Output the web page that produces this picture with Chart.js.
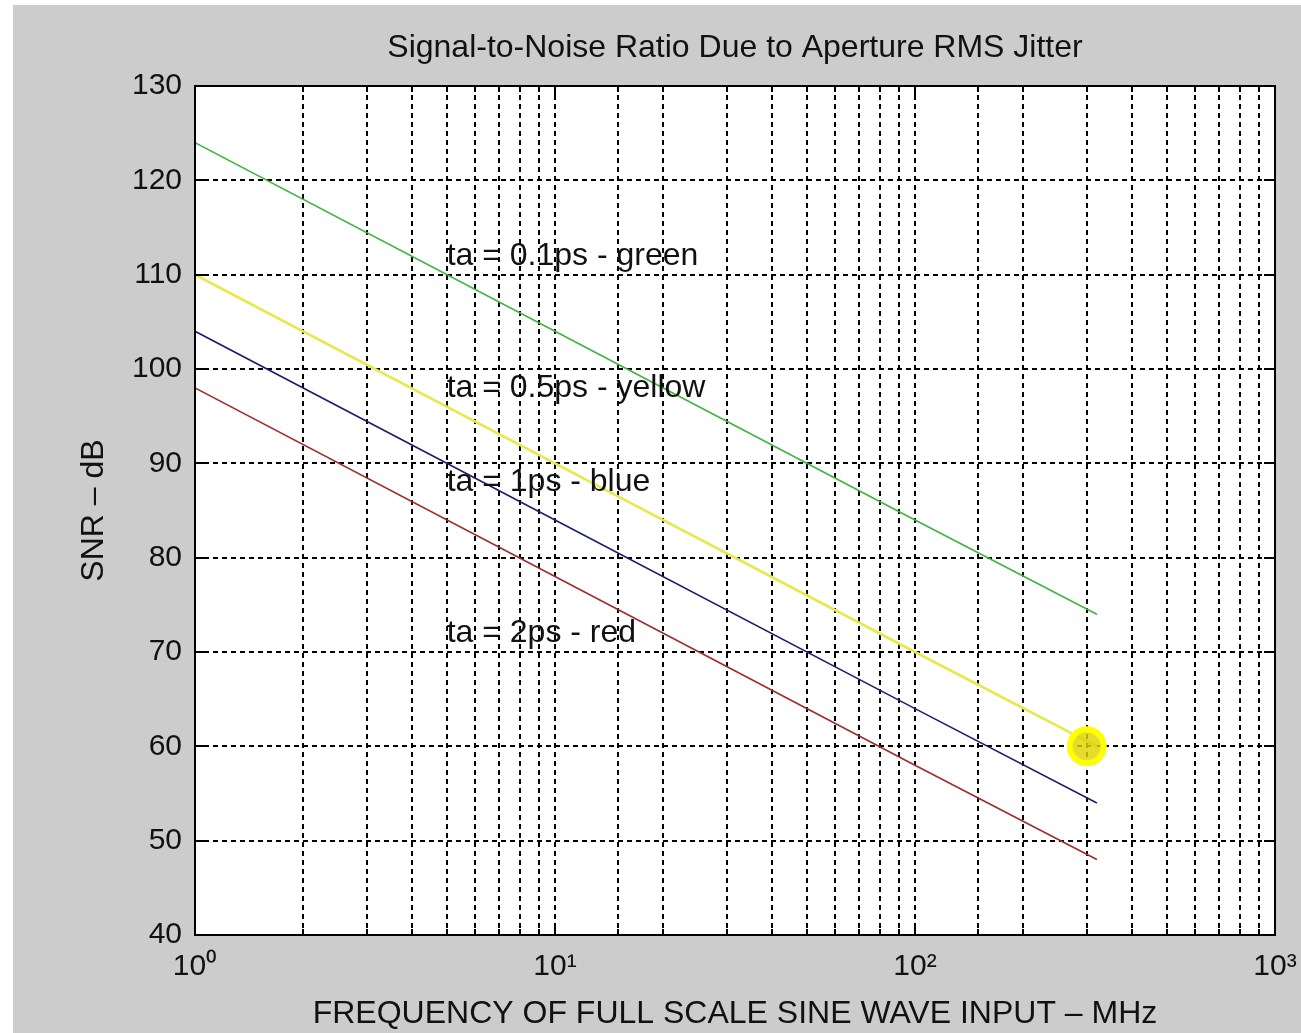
<!DOCTYPE html>
<html>
<head>
<meta charset="utf-8">
<script src="https://cdn.jsdelivr.net/npm/chart.js@4/dist/chart.umd.min.js"></script>
<style>
  html, body { margin: 0; padding: 0; background: #ffffff; }
  #wrap { width: 1301px; height: 1033px; }
</style>
</head>
<body>
<div id="wrap"><canvas id="c" width="1301" height="1033"></canvas></div>
<script>
// ---- data ----
const chartTitle = 'Signal-to-Noise Ratio Due to Aperture RMS Jitter';
const xTitle = 'FREQUENCY OF FULL SCALE SINE WAVE INPUT \u2013 MHz';
const yTitle = 'SNR \u2013 dB';

const frequencies = [1, 10, 100, 320];          // MHz
const snrGreen  = [124, 104, 84, 74];           // ta = 0.1 ps
const snrYellow = [110, 90, 70, 60];            // ta = 0.5 ps
const snrBlue   = [104, 84, 64, 54];            // ta = 1 ps
const snrRed    = [98, 78, 58, 48];             // ta = 2 ps

const markerFreq = [300];
const markerSnr = [60];

const noteTexts = ['ta = 0.1ps - green', 'ta = 0.5ps - yellow', 'ta = 1ps - blue', 'ta = 2ps - red'];
const noteFreq = [5, 5, 5, 5];
const noteSnr = [112, 98, 88, 72];

const xDecades = [1, 10, 100, 1000];
const xDecadeLabels = ['10\u2070', '10\u00B9', '10\u00B2', '10\u00B3'];
const yMin = 40, yMax = 130, yStep = 10;

// ---- helpers ----
const pts = (xs, ys) => xs.map((x, i) => ({ x: x, y: ys[i] }));
const FONT = "'Liberation Sans', Arial, sans-serif";

const bgPlugin = {
  id: 'bg',
  beforeDraw(chart) {
    const ctx = chart.ctx, a = chart.chartArea;
    ctx.save();
    ctx.fillStyle = '#ffffff';
    ctx.fillRect(0, 0, chart.width, chart.height);
    ctx.fillStyle = '#cccccc';
    ctx.fillRect(13, 5, chart.width - 13, chart.height - 5);
    ctx.fillStyle = '#ffffff';
    ctx.fillRect(a.left, a.top, a.right - a.left, a.bottom - a.top);
    ctx.restore();
  }
};

const framePlugin = {
  id: 'frame',
  afterDatasetsDraw(chart) {
    const ctx = chart.ctx, a = chart.chartArea;
    const xs = chart.scales.x, ys = chart.scales.y;
    ctx.save();
    ctx.strokeStyle = '#000000';
    ctx.lineWidth = 2;
    ctx.setLineDash([]);
    // inner tick marks
    ctx.beginPath();
    xs.ticks.forEach(t => {
      const px = Math.round(xs.getPixelForValue(t.value));
      const len = xDecades.includes(t.value) ? 11 : 6;
      ctx.moveTo(px, a.bottom); ctx.lineTo(px, a.bottom - len);
      ctx.moveTo(px, a.top); ctx.lineTo(px, a.top + len);
    });
    ys.ticks.forEach(t => {
      const py = Math.round(ys.getPixelForValue(t.value));
      ctx.moveTo(a.left, py); ctx.lineTo(a.left + 11, py);
      ctx.moveTo(a.right, py); ctx.lineTo(a.right - 11, py);
    });
    ctx.stroke();
    ctx.strokeRect(a.left, a.top, a.right - a.left, a.bottom - a.top);

    // annotations
    ctx.fillStyle = '#111111';
    ctx.font = '32px ' + FONT;
    ctx.textAlign = 'left';
    ctx.textBaseline = 'middle';
    noteTexts.forEach((txt, i) => {
      ctx.fillText(txt, xs.getPixelForValue(noteFreq[i]), ys.getPixelForValue(noteSnr[i]));
    });

    // title
    ctx.font = '32px ' + FONT;
    ctx.textAlign = 'center';
    ctx.fillStyle = '#111111';
    ctx.fillText(chartTitle, (a.left + a.right) / 2, 48);
    ctx.restore();
  }
};

new Chart(document.getElementById('c'), {
  type: 'line',
  data: {
    datasets: [
      {
        label: 'marker',
        data: pts(markerFreq, markerSnr),
        showLine: false,
        pointRadius: 17,
        pointBackgroundColor: 'rgba(222,212,0,0.82)',
        pointBorderColor: '#ffff00',
        pointBorderWidth: 6
      },
      { label: 'ta = 0.1ps', data: pts(frequencies, snrGreen),  borderColor: '#3fb53f', borderWidth: 1.6, pointRadius: 0, tension: 0 },
      { label: 'ta = 0.5ps', data: pts(frequencies, snrYellow), borderColor: '#e8e84c', borderWidth: 2.6, pointRadius: 0, tension: 0 },
      { label: 'ta = 1ps',   data: pts(frequencies, snrBlue),   borderColor: '#1e1e6e', borderWidth: 1.6, pointRadius: 0, tension: 0 },
      { label: 'ta = 2ps',   data: pts(frequencies, snrRed),    borderColor: '#a02c2c', borderWidth: 1.6, pointRadius: 0, tension: 0 }
    ]
  },
  options: {
    responsive: false,
    animation: false,
    layout: { padding: { left: 0, right: 26, top: 86, bottom: 0 } },
    plugins: {
      legend: { display: false },
      tooltip: { enabled: false },
      title: { display: false }
    },
    scales: {
      x: {
        type: 'logarithmic',
        position: 'bottom',
        min: 1,
        max: 1000,
        afterFit(scale) { scale.height = 98; scale.paddingLeft = 0; scale.paddingRight = 0; },
        grid: { color: '#000000', lineWidth: 2, drawTicks: false },
        border: { display: false, dash: [5, 4] },
        ticks: {
          autoSkip: false,
          maxRotation: 0,
          padding: 14,
          color: '#111111',
          font: { family: FONT, size: 30 },
          callback(value) {
            const i = xDecades.indexOf(value);
            return i >= 0 ? xDecadeLabels[i] : '';
          }
        },
        title: {
          display: true,
          text: xTitle,
          color: '#111111',
          font: { family: FONT, size: 32, lineHeight: 1.15 },
          padding: { top: 0, bottom: 0 }
        }
      },
      y: {
        type: 'linear',
        position: 'left',
        min: yMin,
        max: yMax,
        afterFit(scale) { scale.width = 195; scale.paddingTop = 0; scale.paddingBottom = 0; },
        grid: { color: '#000000', lineWidth: 2, drawTicks: false },
        border: { display: false, dash: [5, 4] },
        ticks: {
          stepSize: yStep,
          padding: 13,
          color: '#111111',
          font: { family: FONT, size: 30 }
        },
        title: {
          display: true,
          text: yTitle,
          color: '#111111',
          font: { family: FONT, size: 32, lineHeight: 1.15 },
          padding: { top: 76, bottom: 0 }
        }
      }
    }
  },
  plugins: [bgPlugin, framePlugin]
});
</script>
</body>
</html>
